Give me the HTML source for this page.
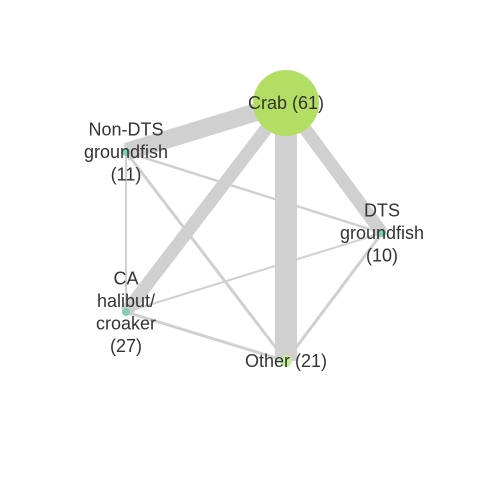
<!DOCTYPE html>
<html><head><meta charset="utf-8"><style>
body{margin:0;background:#fff}
svg text{font-family:"Liberation Sans",sans-serif;font-size:18px;fill:#333;text-anchor:middle}
</style></head><body>
<svg width="480" height="480">
<g id="edges"></g>
<g id="nodes"></g>
<g id="labels"></g>
</svg>
<script>
const nodeNames=["Crab","Non-DTS groundfish","DTS groundfish","CA halibut/croaker","Other"];
const nodeCounts=[61,11,10,27,21];
const nodeLabelLines=[["Crab (61)"],["Non-DTS","groundfish","(11)"],["DTS","groundfish","(10)"],["CA","halibut/","croaker","(27)"],["Other (21)"]];
const edgeFrom=[0,0,0,0,1,1,1,3,3,2];
const edgeTo=[1,2,4,3,3,2,4,2,4,4];
const edgeWeights=[18,13,22,13,2,2.5,3,2,3,3];
const pos=[[286,103],[126,152],[382,233],[126,312],[286,361]];
const colors=["#b3de64","#80cdb8","#80cdb8","#80cdb8","#c8eca4"];
const ns="http://www.w3.org/2000/svg";
function r(c){return c>50?33:(c>20&&c<25?6:4);}
const E=document.getElementById('edges');
edgeFrom.forEach((f,i)=>{const t=edgeTo[i];const l=document.createElementNS(ns,'line');
l.setAttribute('x1',pos[f][0]);l.setAttribute('y1',pos[f][1]);l.setAttribute('x2',pos[t][0]);l.setAttribute('y2',pos[t][1]);
l.setAttribute('stroke','#d0d0d0');l.setAttribute('stroke-width',edgeWeights[i]);


E.appendChild(l);});
const N=document.getElementById('nodes'),L=document.getElementById('labels');
nodeNames.forEach((n,i)=>{const c=document.createElementNS(ns,'circle');
c.setAttribute('cx',pos[i][0]);c.setAttribute('cy',pos[i][1]);c.setAttribute('r',r(nodeCounts[i]));c.setAttribute('fill',colors[i]);


N.appendChild(c);
const lines=nodeLabelLines[i];const y0=pos[i][1]-(lines.length-1)*22.5/2+6;
lines.forEach((s,j)=>{const t=document.createElementNS(ns,'text');t.setAttribute('x',pos[i][0]);t.setAttribute('y',y0+j*22.5);t.textContent=s;


L.appendChild(t);});});
</script>
</body></html>
